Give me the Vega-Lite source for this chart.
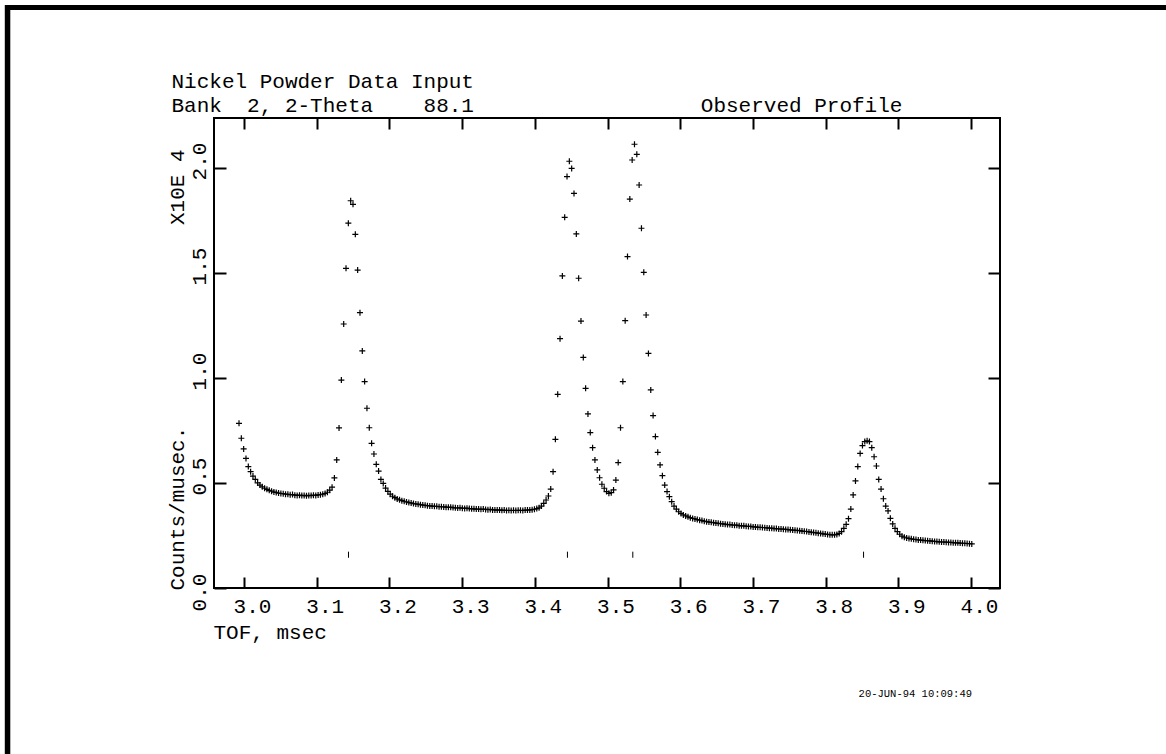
{
"$schema": "https://vega.github.io/schema/vega-lite/v6.json",
"width": 786,
"height": 470,
"autosize": {"type": "none"},
"padding": {"left": 214, "top": 118, "right": 166, "bottom": 166},
"background": "white",
"config": {
  "view": {"stroke": "black", "strokeWidth": 2},
  "font": "Liberation Mono",
  "axis": {"grid": false, "domain": false, "tickColor": "black", "tickWidth": 2, "labelColor": "black", "labelFont": "Liberation Mono", "labelFontSize": 21, "titleFont": "Liberation Mono", "titleFontSize": 21, "titleColor": "black", "titleFontWeight": "normal", "labelFlush": false, "labelOverlap": false, "labelBound": false}
},
"datasets": {
  "profile": [
{"t":2.9931,"v":0.784},{"t":2.9963,"v":0.713},{"t":2.9995,"v":0.662},{"t":3.0027,"v":0.617},{"t":3.0059,"v":0.578},{"t":3.0091,"v":0.554},{"t":3.0123,"v":0.533},{"t":3.0155,"v":0.517},{"t":3.0187,"v":0.501},{"t":3.0219,"v":0.490},
{"t":3.0251,"v":0.482},{"t":3.0283,"v":0.475},{"t":3.0315,"v":0.470},{"t":3.0347,"v":0.465},{"t":3.0379,"v":0.461},{"t":3.0411,"v":0.457},{"t":3.0443,"v":0.455},{"t":3.0475,"v":0.452},{"t":3.0507,"v":0.450},{"t":3.0539,"v":0.449},
{"t":3.0571,"v":0.447},{"t":3.0603,"v":0.446},{"t":3.0635,"v":0.444},{"t":3.0667,"v":0.445},{"t":3.0699,"v":0.442},{"t":3.0731,"v":0.441},{"t":3.0763,"v":0.442},{"t":3.0795,"v":0.440},{"t":3.0827,"v":0.441},{"t":3.0859,"v":0.439},
{"t":3.0891,"v":0.441},{"t":3.0923,"v":0.440},{"t":3.0955,"v":0.442},{"t":3.0987,"v":0.441},{"t":3.1019,"v":0.443},{"t":3.1051,"v":0.444},{"t":3.1083,"v":0.447},{"t":3.1115,"v":0.450},{"t":3.1147,"v":0.456},{"t":3.1179,"v":0.466},
{"t":3.1211,"v":0.480},{"t":3.1243,"v":0.524},{"t":3.1275,"v":0.610},{"t":3.1307,"v":0.762},{"t":3.1339,"v":0.990},{"t":3.1371,"v":1.257},{"t":3.1403,"v":1.522},{"t":3.1435,"v":1.737},{"t":3.1467,"v":1.844},{"t":3.1499,"v":1.827},
{"t":3.1531,"v":1.684},{"t":3.1563,"v":1.514},{"t":3.1595,"v":1.311},{"t":3.1627,"v":1.129},{"t":3.1659,"v":0.983},{"t":3.1691,"v":0.856},{"t":3.1723,"v":0.763},{"t":3.1755,"v":0.689},{"t":3.1787,"v":0.638},{"t":3.1819,"v":0.589},
{"t":3.1851,"v":0.557},{"t":3.1883,"v":0.517},{"t":3.1915,"v":0.498},{"t":3.1947,"v":0.476},{"t":3.1979,"v":0.460},{"t":3.2011,"v":0.447},{"t":3.2043,"v":0.437},{"t":3.2075,"v":0.430},{"t":3.2107,"v":0.424},{"t":3.2139,"v":0.420},
{"t":3.2171,"v":0.416},{"t":3.2203,"v":0.413},{"t":3.2235,"v":0.410},{"t":3.2267,"v":0.407},{"t":3.2299,"v":0.405},{"t":3.2331,"v":0.402},{"t":3.2363,"v":0.400},{"t":3.2395,"v":0.399},{"t":3.2427,"v":0.397},{"t":3.2459,"v":0.395},
{"t":3.2491,"v":0.394},{"t":3.2523,"v":0.392},{"t":3.2555,"v":0.391},{"t":3.2587,"v":0.390},{"t":3.2619,"v":0.389},{"t":3.2651,"v":0.389},{"t":3.2683,"v":0.387},{"t":3.2715,"v":0.387},{"t":3.2747,"v":0.386},{"t":3.2779,"v":0.385},
{"t":3.2811,"v":0.384},{"t":3.2843,"v":0.385},{"t":3.2875,"v":0.383},{"t":3.2907,"v":0.382},{"t":3.2939,"v":0.381},{"t":3.2971,"v":0.382},{"t":3.3003,"v":0.380},{"t":3.3035,"v":0.379},{"t":3.3067,"v":0.380},{"t":3.3099,"v":0.378},
{"t":3.3131,"v":0.377},{"t":3.3163,"v":0.377},{"t":3.3195,"v":0.376},{"t":3.3227,"v":0.376},{"t":3.3259,"v":0.375},{"t":3.3291,"v":0.376},{"t":3.3323,"v":0.374},{"t":3.3355,"v":0.373},{"t":3.3387,"v":0.374},{"t":3.3419,"v":0.372},
{"t":3.3451,"v":0.372},{"t":3.3483,"v":0.371},{"t":3.3515,"v":0.372},{"t":3.3547,"v":0.370},{"t":3.3579,"v":0.371},{"t":3.3611,"v":0.369},{"t":3.3643,"v":0.370},{"t":3.3675,"v":0.369},{"t":3.3707,"v":0.370},{"t":3.3739,"v":0.369},
{"t":3.3771,"v":0.370},{"t":3.3803,"v":0.370},{"t":3.3835,"v":0.369},{"t":3.3867,"v":0.371},{"t":3.3899,"v":0.371},{"t":3.3931,"v":0.372},{"t":3.3963,"v":0.373},{"t":3.3995,"v":0.375},{"t":3.4027,"v":0.378},{"t":3.4059,"v":0.382},
{"t":3.4091,"v":0.390},{"t":3.4123,"v":0.403},{"t":3.4155,"v":0.419},{"t":3.4187,"v":0.438},{"t":3.4219,"v":0.471},{"t":3.4251,"v":0.554},{"t":3.4283,"v":0.708},{"t":3.4315,"v":0.922},{"t":3.4347,"v":1.187},{"t":3.4379,"v":1.486},
{"t":3.4411,"v":1.765},{"t":3.4443,"v":1.959},{"t":3.4475,"v":2.032},{"t":3.4507,"v":1.998},{"t":3.4539,"v":1.879},{"t":3.4571,"v":1.686},{"t":3.4603,"v":1.475},{"t":3.4635,"v":1.271},{"t":3.4667,"v":1.098},{"t":3.4699,"v":0.951},
{"t":3.4731,"v":0.829},{"t":3.4763,"v":0.740},{"t":3.4795,"v":0.668},{"t":3.4827,"v":0.610},{"t":3.4859,"v":0.562},{"t":3.4891,"v":0.525},{"t":3.4923,"v":0.494},{"t":3.4955,"v":0.475},{"t":3.4987,"v":0.459},{"t":3.5019,"v":0.451},
{"t":3.5051,"v":0.454},{"t":3.5083,"v":0.467},{"t":3.5115,"v":0.514},{"t":3.5147,"v":0.597},{"t":3.5179,"v":0.763},{"t":3.5211,"v":0.983},{"t":3.5243,"v":1.273},{"t":3.5275,"v":1.578},{"t":3.5307,"v":1.852},{"t":3.5339,"v":2.038},
{"t":3.5371,"v":2.113},{"t":3.5403,"v":2.065},{"t":3.5435,"v":1.919},{"t":3.5467,"v":1.713},{"t":3.5499,"v":1.503},{"t":3.5531,"v":1.300},{"t":3.5563,"v":1.117},{"t":3.5595,"v":0.943},{"t":3.5627,"v":0.821},{"t":3.5659,"v":0.721},
{"t":3.5691,"v":0.646},{"t":3.5723,"v":0.586},{"t":3.5755,"v":0.535},{"t":3.5787,"v":0.490},{"t":3.5819,"v":0.459},{"t":3.5851,"v":0.435},{"t":3.5883,"v":0.411},{"t":3.5915,"v":0.390},{"t":3.5947,"v":0.376},{"t":3.5979,"v":0.363},
{"t":3.6011,"v":0.355},{"t":3.6043,"v":0.348},{"t":3.6075,"v":0.343},{"t":3.6107,"v":0.339},{"t":3.6139,"v":0.335},{"t":3.6171,"v":0.331},{"t":3.6203,"v":0.329},{"t":3.6235,"v":0.326},{"t":3.6267,"v":0.323},{"t":3.6299,"v":0.321},
{"t":3.6331,"v":0.318},{"t":3.6363,"v":0.316},{"t":3.6395,"v":0.314},{"t":3.6427,"v":0.313},{"t":3.6459,"v":0.311},{"t":3.6491,"v":0.309},{"t":3.6523,"v":0.308},{"t":3.6555,"v":0.306},{"t":3.6587,"v":0.305},{"t":3.6619,"v":0.304},
{"t":3.6651,"v":0.302},{"t":3.6683,"v":0.302},{"t":3.6715,"v":0.300},{"t":3.6747,"v":0.299},{"t":3.6779,"v":0.299},{"t":3.6811,"v":0.297},{"t":3.6843,"v":0.296},{"t":3.6875,"v":0.296},{"t":3.6907,"v":0.294},{"t":3.6939,"v":0.293},
{"t":3.6971,"v":0.293},{"t":3.7003,"v":0.291},{"t":3.7035,"v":0.291},{"t":3.7067,"v":0.289},{"t":3.7099,"v":0.289},{"t":3.7131,"v":0.288},{"t":3.7163,"v":0.287},{"t":3.7195,"v":0.286},{"t":3.7227,"v":0.285},{"t":3.7259,"v":0.285},
{"t":3.7291,"v":0.283},{"t":3.7323,"v":0.283},{"t":3.7355,"v":0.281},{"t":3.7387,"v":0.281},{"t":3.7419,"v":0.280},{"t":3.7451,"v":0.279},{"t":3.7483,"v":0.278},{"t":3.7515,"v":0.277},{"t":3.7547,"v":0.276},{"t":3.7579,"v":0.275},
{"t":3.7611,"v":0.274},{"t":3.7643,"v":0.273},{"t":3.7675,"v":0.271},{"t":3.7707,"v":0.270},{"t":3.7739,"v":0.269},{"t":3.7771,"v":0.267},{"t":3.7803,"v":0.266},{"t":3.7835,"v":0.264},{"t":3.7867,"v":0.263},{"t":3.7899,"v":0.261},
{"t":3.7931,"v":0.260},{"t":3.7963,"v":0.258},{"t":3.7995,"v":0.257},{"t":3.8027,"v":0.255},{"t":3.8059,"v":0.254},{"t":3.8091,"v":0.253},{"t":3.8123,"v":0.253},{"t":3.8155,"v":0.255},{"t":3.8187,"v":0.260},{"t":3.8219,"v":0.268},
{"t":3.8251,"v":0.284},{"t":3.8283,"v":0.303},{"t":3.8315,"v":0.330},{"t":3.8347,"v":0.376},{"t":3.8379,"v":0.443},{"t":3.8411,"v":0.510},{"t":3.8443,"v":0.578},{"t":3.8475,"v":0.641},{"t":3.8507,"v":0.678},{"t":3.8539,"v":0.697},
{"t":3.8571,"v":0.701},{"t":3.8603,"v":0.697},{"t":3.8635,"v":0.668},{"t":3.8667,"v":0.625},{"t":3.8699,"v":0.581},{"t":3.8731,"v":0.517},{"t":3.8763,"v":0.471},{"t":3.8795,"v":0.425},{"t":3.8827,"v":0.390},{"t":3.8859,"v":0.367},
{"t":3.8891,"v":0.332},{"t":3.8923,"v":0.305},{"t":3.8955,"v":0.284},{"t":3.8987,"v":0.268},{"t":3.9019,"v":0.256},{"t":3.9051,"v":0.247},{"t":3.9083,"v":0.242},{"t":3.9115,"v":0.238},{"t":3.9147,"v":0.236},{"t":3.9179,"v":0.234},
{"t":3.9211,"v":0.232},{"t":3.9243,"v":0.231},{"t":3.9275,"v":0.229},{"t":3.9307,"v":0.228},{"t":3.9339,"v":0.227},{"t":3.9371,"v":0.226},{"t":3.9403,"v":0.225},{"t":3.9435,"v":0.224},{"t":3.9467,"v":0.223},{"t":3.9499,"v":0.222},
{"t":3.9531,"v":0.221},{"t":3.9563,"v":0.220},{"t":3.9595,"v":0.219},{"t":3.9627,"v":0.219},{"t":3.9659,"v":0.218},{"t":3.9691,"v":0.217},{"t":3.9723,"v":0.217},{"t":3.9755,"v":0.216},{"t":3.9787,"v":0.215},{"t":3.9819,"v":0.215},
{"t":3.9851,"v":0.214},{"t":3.9883,"v":0.213},{"t":3.9915,"v":0.213},{"t":3.9947,"v":0.212},{"t":3.9979,"v":0.211},{"t":4.0011,"v":0.210}
  ],
  "reflections": [{"t":3.1437},{"t":3.4449},{"t":3.5348},{"t":3.8522}]
},
"layer": [
  {
    "data": {"name": "profile"},
    "mark": {"type": "point", "shape": "M-1,0L1,0M0,-1L0,1", "filled": false, "stroke": "black", "strokeWidth": 1.2, "size": 36, "opacity": 1},
    "encoding": {
      "x": {"field": "t", "type": "quantitative",
        "scale": {"domain": [2.9587, 4.0399], "nice": false, "zero": false},
        "axis": {"orient": "bottom", "values": [3.0, 3.1, 3.2, 3.3, 3.4, 3.5, 3.6, 3.7, 3.8, 3.9, 4.0], "format": ".1f", "tickSize": -11, "labelPadding": 18, "labelOffset": 8,
          "title": "TOF, msec", "titleX": -1, "titleY": 50, "titleAlign": "left", "titleBaseline": "alphabetic", "titleAngle": 0}},
      "y": {"field": "v", "type": "quantitative",
        "scale": {"domain": [0, 2.238], "nice": false},
        "axis": {"orient": "left", "values": [0, 0.5, 1.0, 1.5, 2.0], "format": ".1f", "tickSize": -12, "labelPadding": 21, "labelAngle": 270, "labelAlign": "center", "labelBaseline": "alphabetic",
          "labelOffset": {"condition": {"test": "datum.value == 0", "value": 4}, "value": -7},
          "title": "Counts/musec.\u00a0\u00a0\u00a0\u00a0\u00a0\u00a0\u00a0\u00a0\u00a0\u00a0\u00a0\u00a0\u00a0\u00a0\u00a0\u00a0X10E\u00a04", "titleAngle": 270, "titleAlign": "left", "titleBaseline": "alphabetic", "titleX": -31, "titleY": 472}}
    }
  },
  {
    "data": {"name": "reflections"},
    "mark": {"type": "rule", "stroke": "black", "strokeWidth": 1},
    "encoding": {
      "x": {"field": "t", "type": "quantitative",
        "axis": {"orient": "top", "values": [3.0, 3.1, 3.2, 3.3, 3.4, 3.5, 3.6, 3.7, 3.8, 3.9, 4.0], "labels": false, "tickSize": -11,
          "title": ["Nickel Powder Data Input", "Bank\u00a0\u00a02,\u00a02-Theta\u00a0\u00a0\u00a0\u00a088.1\u00a0\u00a0\u00a0\u00a0\u00a0\u00a0\u00a0\u00a0\u00a0\u00a0\u00a0\u00a0\u00a0\u00a0\u00a0\u00a0\u00a0\u00a0Observed\u00a0Profile"],
          "titleX": -43, "titleY": -31, "titleAlign": "left", "titleBaseline": "alphabetic", "titleAngle": 0, "titleLineHeight": 24}},
      "y": {"datum": 0.173, "type": "quantitative",
        "axis": {"orient": "right", "values": [0, 0.5, 1.0, 1.5, 2.0], "labels": false, "tickSize": -12, "title": null}},
      "y2": {"datum": 0.144}
    }
  },
  {
    "data": {"values": [{}]},
    "mark": {"type": "text", "text": "20-JUN-94 10:09:49", "align": "right", "baseline": "alphabetic", "font": "Liberation Mono", "fontSize": 10.5, "color": "black"},
    "encoding": {
      "x": {"datum": 4.0014, "type": "quantitative", "axis": null},
      "y": {"datum": -0.519, "type": "quantitative", "axis": null}
    }
  },
  {
    "data": {"values": [{}]},
    "mark": {"type": "rule", "stroke": "black", "strokeWidth": 5},
    "encoding": {
      "x": {"datum": 2.6712, "type": "quantitative", "axis": null},
      "x2": {"datum": 4.28},
      "y": {"datum": 2.7643, "type": "quantitative", "axis": null}
    }
  },
  {
    "data": {"values": [{}]},
    "mark": {"type": "rule", "stroke": "black", "strokeWidth": 5.5},
    "encoding": {
      "x": {"datum": 2.6747, "type": "quantitative", "axis": null},
      "y": {"datum": 2.776, "type": "quantitative", "axis": null},
      "y2": {"datum": -0.82}
    }
  }
],
"resolve": {"axis": {"x": "independent", "y": "independent"}}
}
